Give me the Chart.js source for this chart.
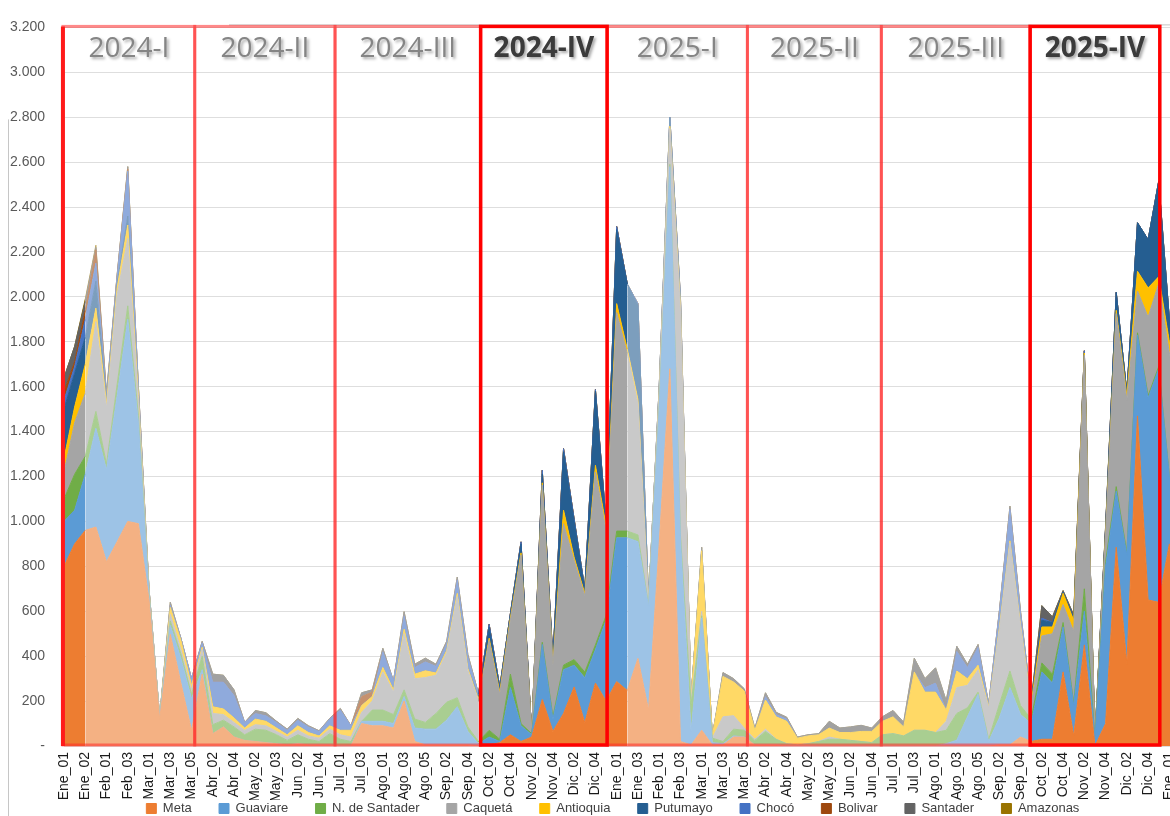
<!DOCTYPE html>
<html>
<head>
<meta charset="utf-8">
<style>
  html, body { margin: 0; padding: 0; overflow: hidden; background: #fff; }
  canvas { display: block; }
</style>
</head>
<body>
<canvas id="chart" width="1251" height="825"></canvas>
<script src="https://cdn.jsdelivr.net/npm/chart.js@4.4.1/dist/chart.umd.min.js"></script>
<script>
// semanas (una categoria por semana, se muestra una de cada dos)
const weeks2024 = ['Ene_01','Ene_01b','Ene_02','Ene_03','Feb_01','Feb_02','Feb_03','Feb_04','Mar_01','Mar_02','Mar_03','Mar_04','Mar_05',
  'Abr_01','Abr_02','Abr_03','Abr_04','May_01','May_02','May_02b','May_03','Jun_01','Jun_02','Jun_03','Jun_04','Jun_05',
  'Jul_01','Jul_02','Jul_03','Jul_04','Ago_01','Ago_02','Ago_03','Ago_04','Ago_05','Sep_01','Sep_02','Sep_03','Sep_04',
  'Oct_01','Oct_02','Oct_03','Oct_04','Nov_01','Nov_02','Nov_03','Nov_04','Dic_01','Dic_02','Dic_03','Dic_04','Dic_05'];
const weeks2025 = ['Ene_01','Ene_02','Ene_03','Ene_04','Feb_01','Feb_02','Feb_03','Feb_04','Mar_01','Mar_02','Mar_03','Mar_04','Mar_05',
  'Abr_01','Abr_02','Abr_03','Abr_04','May_01','May_02','May_02b','May_03','Jun_01','Jun_02','Jun_03','Jun_04','Jun_05',
  'Jul_01','Jul_02','Jul_03','Jul_04','Ago_01','Ago_02','Ago_03','Ago_04','Ago_05','Sep_01','Sep_02','Sep_03','Sep_04',
  'Oct_01','Oct_02','Oct_03','Oct_04','Nov_01','Nov_02','Nov_03','Nov_04','Dic_01','Dic_02','Dic_03','Dic_04','Dic_05'];
const weeks2026 = ['Ene_01','Ene_02'];
const weeks = weeks2024.concat(weeks2025, weeks2026);

const departments = ['Meta','Guaviare','N. de Santader','Caquetá','Antioquia','Putumayo','Chocó','Bolivar','Santader','Amazonas'];
const colors = ['#ED7D31','#5B9BD5','#70AD47','#A5A5A5','#FFC000','#255E91','#4472C4','#9E480E','#636363','#997300'];

const meta = [
  800, 900, 960, 975, 820, 910, 1000, 990, 650, 120, 497, 280, 70,
  320, 55, 85, 40, 25, 20, 15, 10, 5, 10, 5, 5, 5,
  0, 0, 100, 90, 90, 80, 200, 20, 5, 5, 5, 5, 5,
  0, 5, 15, 50, 20, 40, 207, 65, 145, 263, 104, 280, 200,
  287, 247, 390, 160, 900, 1680, 20, 5, 70, 5, 5, 40, 40,
  5, 5, 5, 0, 0, 0, 0, 0, 0, 0, 0, 0, 0,
  0, 0, 0, 0, 0, 0, 0, 0, 0, 0, 5, 5, 40,
  20, 30, 30, 330, 45, 450, 0, 100, 885, 365, 1470, 650, 640, 900, 800];
const guaviare = [
  200, 150, 250, 440, 410, 650, 900, 450, 20, 5, 40, 110, 140,
  20, 0, 0, 0, 0, 0, 0, 0, 0, 0, 0, 0, 0,
  0, 0, 10, 20, 20, 20, 20, 60, 70, 70, 110, 170, 60,
  10, 35, 5, 210, 70, 10, 245, 55, 195, 97, 200, 150, 360,
  640, 680, 520, 460, 600, 900, 900, 60, 500, 10, 5, 5, 0,
  0, 0, 0, 0, 0, 0, 0, 0, 0, 0, 0, 0, 0,
  0, 0, 0, 0, 0, 10, 26, 130, 230, 20, 120, 255, 100,
  80, 300, 250, 200, 135, 150, 30, 700, 250, 485, 360, 900, 1040, 300, 300];
const nSantander = [
  100, 160, 80, 75, 25, 50, 60, 30, 10, 0, 20, 20, 20,
  60, 40, 30, 45, 25, 55, 55, 40, 20, 40, 25, 15, 50,
  30, 20, 0, 50, 50, 40, 30, 40, 30, 70, 80, 40, 20,
  10, 30, 10, 60, 10, 5, 10, 10, 20, 25, 25, 20, 20,
  30, 30, 30, 5, 10, 10, 20, 120, 10, 20, 10, 30, 30,
  20, 60, 25, 10, 5, 10, 20, 30, 30, 25, 20, 15, 50,
  55, 45, 70, 70, 60, 60, 119, 40, 10, 10, 60, 74, 40,
  20, 40, 40, 20, 10, 100, 0, 20, 20, 10, 10, 10, 10, 0, 0];
const caqueta = [
  120, 230, 280, 400, 250, 400, 300, 60, 10, 5, 30, 20, 20,
  30, 50, 25, 20, 20, 20, 20, 15, 15, 20, 15, 15, 20,
  20, 20, 40, 40, 170, 100, 250, 180, 200, 170, 220, 450, 250,
  180, 400, 200, 240, 750, 5, 700, 230, 630, 440, 340, 770, 380,
  973, 790, 583, 10, 60, 160, 1000, 20, 20, 0, 110, 60, 10,
  5, 10, 0, 0, 0, 0, 0, 10, 0, 0, 0, 0, 0,
  0, 0, 0, 0, 0, 40, 115, 100, 100, 140, 330, 570, 350,
  60, 120, 180, 80, 320, 1040, 10, 120, 770, 680, 186, 350, 370, 550, 450];
const antioquia = [
  60, 70, 130, 60, 20, 30, 60, 30, 5, 0, 30, 40, 20,
  10, 30, 25, 20, 10, 25, 20, 15, 10, 20, 15, 10, 15,
  20, 30, 30, 20, 20, 10, 20, 20, 30, 10, 10, 15, 10,
  5, 10, 10, 10, 10, 0, 10, 5, 60, 15, 10, 30, 20,
  40, 20, 20, 5, 10, 10, 20, 10, 270, 10, 180, 150, 165,
  40, 130, 100, 100, 30, 35, 30, 40, 30, 35, 45, 50, 60,
  75, 40, 260, 170, 180, 50, 74, 30, 20, 5, 10, 10, 10,
  10, 40, 30, 50, 50, 10, 0, 10, 15, 20, 88, 130, 30, 50, 50];
const putumayo = [
  220, 150, 120, 120, 10, 20, 40, 10, 0, 0, 0, 0, 0,
  0, 0, 0, 0, 0, 0, 0, 0, 0, 0, 0, 0, 0,
  0, 0, 0, 0, 0, 0, 0, 0, 0, 0, 0, 0, 0,
  15, 50, 15, 15, 40, 0, 40, 15, 260, 160, 15, 330, 15,
  330, 290, 420, 6, 20, 40, 30, 0, 0, 0, 0, 0, 0,
  0, 0, 0, 0, 0, 0, 0, 0, 0, 0, 0, 0, 0,
  0, 0, 0, 0, 0, 0, 0, 0, 0, 0, 0, 0, 0,
  0, 30, 20, 5, 10, 0, 0, 20, 80, 15, 216, 215, 426, 100, 100];
const choco = [
  40, 30, 80, 80, 20, 30, 200, 30, 5, 0, 10, 10, 30,
  20, 110, 120, 100, 25, 25, 25, 25, 20, 25, 25, 20, 30,
  90, 20, 0, 0, 70, 40, 60, 30, 40, 30, 30, 60, 50,
  13, 12, 8, 5, 9, 0, 16, 10, 14, 10, 6, 7, 5,
  13, 0, 7, 0, 0, 0, 10, 0, 0, 0, 0, 0, 0,
  0, 15, 10, 10, 0, 0, 0, 0, 0, 0, 0, 0, 0,
  0, 0, 0, 20, 40, 0, 88, 50, 80, 10, 70, 140, 50,
  10, 10, 0, 0, 0, 10, 0, 0, 0, 0, 0, 0, 0, 0, 0];
const bolivar = [
  40, 20, 40, 60, 5, 5, 10, 0, 0, 0, 0, 0, 0,
  0, 0, 0, 0, 0, 0, 0, 0, 0, 0, 0, 0, 0,
  0, 0, 40, 20, 0, 0, 0, 0, 0, 0, 0, 0, 0,
  0, 0, 0, 0, 0, 0, 0, 0, 0, 0, 0, 0, 0,
  0, 0, 0, 0, 0, 0, 0, 0, 0, 0, 0, 0, 0,
  0, 0, 0, 0, 0, 0, 0, 0, 0, 0, 0, 0, 0,
  0, 0, 0, 0, 0, 0, 0, 0, 0, 0, 0, 0, 0,
  0, 0, 0, 0, 0, 0, 0, 0, 0, 0, 0, 0, 0, 0, 0];
const santader = [
  60, 70, 40, 10, 10, 5, 10, 0, 0, 0, 13, 0, 0,
  6, 35, 30, 25, 0, 13, 13, 5, 5, 8, 5, 3, 3,
  7, 0, 17, 10, 15, 0, 18, 14, 16, 9, 11, 12, 13,
  0, 0, 0, 0, 0, 0, 0, 0, 0, 0, 0, 0, 0,
  0, 0, 0, 0, 0, 0, 0, 0, 15, 0, 17, 15, 10,
  10, 17, 10, 8, 5, 5, 5, 30, 20, 25, 27, 15, 20,
  28, 21, 61, 40, 68, 42, 22, 14, 12, 3, 5, 14, 10,
  0, 55, 25, 7, 13, 0, 0, 10, 0, 0, 0, 0, 0, 0, 0];
const amazonas = [
  0, 0, 10, 10, 0, 0, 0, 0, 0, 0, 0, 0, 0,
  0, 0, 0, 0, 0, 0, 0, 0, 0, 0, 0, 0, 0,
  0, 0, 0, 0, 0, 0, 0, 0, 0, 0, 0, 0, 0,
  0, 0, 0, 0, 0, 0, 0, 0, 0, 0, 0, 0, 0,
  0, 0, 0, 0, 0, 0, 0, 0, 0, 0, 0, 0, 0,
  0, 0, 0, 0, 0, 0, 0, 0, 0, 0, 0, 0, 0,
  0, 0, 0, 0, 0, 0, 0, 0, 0, 0, 0, 0, 0,
  0, 0, 0, 0, 0, 0, 0, 0, 0, 0, 0, 0, 0, 0, 0];
const series = [meta, guaviare, nSantander, caqueta, antioquia, putumayo, choco, bolivar, santader, amazonas];

// trimestres marcados en rojo (bordes en unidades de categoria)
const quarters = ['2024-I','2024-II','2024-III','2024-IV','2025-I','2025-II','2025-III','2025-IV'];
const quarterEdges = [-0.1, 12.3, 25.5, 39.2, 51.1, 64.3, 76.9, 90.9, 103.1];
const boldQuarters = ['2024-IV', '2025-IV'];
// tramos con color intenso, el resto va desvanecido
const vividRanges = [[0, 1], [39, 52], [91, 105]];

function isVivid(i) {
  return vividRanges.some(r => i >= r[0] && i <= r[1]);
}

function fade(hex, t) {
  const n = parseInt(hex.slice(1), 16);
  const mix = c => Math.round(c + (255 - c) * t);
  return `rgb(${mix(n >> 16)}, ${mix((n >> 8) & 255)}, ${mix(n & 255)})`;
}

function fmtThousands(v) {
  if (v === 0) return '-';
  if (v >= 1000) return Math.floor(v / 1000) + '.' + String(v % 1000).padStart(3, '0');
  return String(v);
}

Chart.defaults.font.family = '"Liberation Sans", Arial, sans-serif';

const datasets = series.map((data, k) => {
  const vivid = colors[k];
  const soft = fade(vivid, 0.4);
  const pick = ctx => isVivid(ctx.p0DataIndex) ? vivid : soft;
  return {
    label: departments[k],
    data: data,
    backgroundColor: vivid,
    borderColor: vivid,
    borderWidth: 1,
    fill: k === 0 ? 'origin' : '-1',
    pointRadius: 0,
    pointHoverRadius: 0,
    tension: 0,
    segment: { backgroundColor: pick, borderColor: pick }
  };
});

const quarterBoxes = {
  id: 'quarterBoxes',
  afterDraw(chart) {
    const { ctx, chartArea: a, scales: { x } } = chart;
    ctx.save();
    // restos del marco original
    ctx.strokeStyle = '#c6c6c6';
    ctx.lineWidth = 1;
    ctx.beginPath();
    ctx.moveTo(8.5, a.top + 92);
    ctx.lineTo(8.5, chart.height);
    ctx.moveTo(229, a.top - 2.5);
    ctx.lineTo(chart.width, a.top - 2.5);
    ctx.stroke();

    const idx = quarters.map((q, i) => i);
    const bold = i => boldQuarters.includes(quarters[i]);
    idx.sort((i, j) => bold(i) - bold(j));
    for (const i of idx) {
      const l = x.getPixelForValue(quarterEdges[i]);
      const r = x.getPixelForValue(quarterEdges[i + 1]);
      ctx.strokeStyle = bold(i) ? '#ff0000' : 'rgba(255, 40, 40, 0.55)';
      ctx.lineWidth = bold(i) ? 3.5 : 3;
      ctx.strokeRect(l, a.top - 1, r - l, a.bottom - a.top);
    }
    // borde izquierdo del primer trimestre
    const l0 = x.getPixelForValue(quarterEdges[0]);
    ctx.strokeStyle = '#ff1a1a';
    ctx.lineWidth = 4;
    ctx.beginPath();
    ctx.moveTo(l0, a.top - 1);
    ctx.lineTo(l0, a.bottom);
    ctx.stroke();

    ctx.textAlign = 'center';
    ctx.textBaseline = 'middle';
    ctx.shadowColor = 'rgba(0, 0, 0, 0.35)';
    ctx.shadowBlur = 3;
    ctx.shadowOffsetX = 2;
    ctx.shadowOffsetY = 2;
    quarters.forEach((q, i) => {
      const l = x.getPixelForValue(quarterEdges[i]);
      const r = x.getPixelForValue(quarterEdges[i + 1]);
      ctx.font = (bold(i) ? 'bold ' : '') + '28px "Open Sans"';
      ctx.fillStyle = bold(i) ? '#3b3b3b' : '#858585';
      ctx.fillText(q, (l + r) / 2, a.top + 22);
    });
    ctx.restore();
  }
};

// separacion entre entradas de la leyenda
const legendGap = '       ';

new Chart(document.getElementById('chart'), {
  type: 'line',
  data: { labels: weeks, datasets: datasets },
  options: {
    responsive: false,
    animation: false,
    events: [],
    layout: { padding: { top: 18, left: 0, right: 0, bottom: 0 } },
    plugins: {
      legend: {
        position: 'bottom',
        labels: {
          boxWidth: 10, boxHeight: 10, padding: 2, color: '#404040', font: { size: 13 },
          generateLabels: chart => Chart.defaults.plugins.legend.labels.generateLabels(chart)
            .map(item => Object.assign(item, { text: item.text + legendGap }))
        }
      },
      tooltip: { enabled: false }
    },
    scales: {
      x: {
        offset: false,
        grid: { display: false, drawTicks: false },
        border: { display: false },
        ticks: {
          autoSkip: false, maxRotation: 90, minRotation: 90, padding: 6,
          color: '#1a1a1a', font: { size: 14 },
          callback: (v, i) => i % 2 ? '' : weeks[i]
        },
        afterFit: s => { s.height = 54; }
      },
      y: {
        stacked: true,
        min: 0,
        max: 3200,
        ticks: { stepSize: 200, padding: 19, color: '#595959', font: { size: 14 }, callback: fmtThousands },
        grid: { color: '#dedede', drawTicks: false },
        border: { display: false },
        afterFit: s => { s.width = 64; }
      },
      y2: {
        position: 'right',
        grid: { display: false },
        ticks: { display: false },
        border: { display: false },
        afterFit: s => { s.width = 71; }
      }
    }
  },
  plugins: [quarterBoxes]
});
</script>
</body>
</html>
